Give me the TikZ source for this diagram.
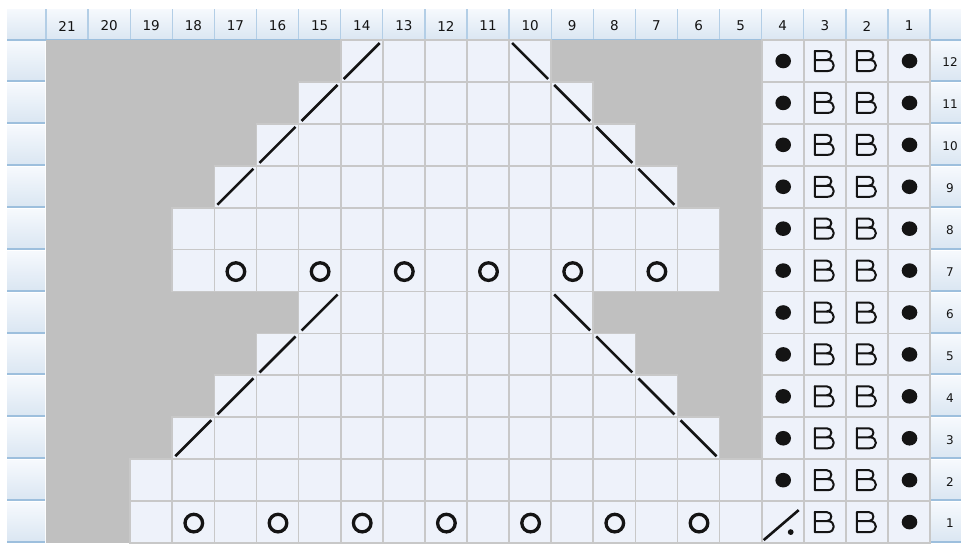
\documentclass[tikz,border=0pt]{standalone}
\usepackage{fontspec}
\setmainfont{DejaVu Sans}
\definecolor{cellfill}{HTML}{EEF2FA}
\definecolor{cellline}{HTML}{C8C8C8}
\definecolor{bggray}{HTML}{C0C0C0}
\definecolor{hdrtop}{HTML}{F6F9FD}
\definecolor{hdrbot}{HTML}{DAE6F2}
\definecolor{hdrline}{HTML}{9DBFDD}
\definecolor{hdrsep}{HTML}{B3CEE6}
\definecolor{ink}{HTML}{141414}
\tikzset{
  cellbox/.style={fill=cellfill,draw=cellline,line width=1.7pt},
  slashln/.style={draw=ink,line width=2.6pt,line cap=butt},
  ringsym/.style={draw=ink,line width=3.3pt},
  bsym/.style={draw=ink,line width=2pt,line join=round,line cap=round},
  hdrcell/.style={top color=hdrtop,bottom color=hdrbot,draw=none},
  hdrtxt/.style={font=\fontsize{13.5}{15}\selectfont,text=ink,inner sep=0pt},
  rowtxt/.style={font=\fontsize{12}{14}\selectfont,text=ink,inner sep=0pt},
}
\begin{document}
\begin{tikzpicture}[x=1pt,y=-1pt,
  declare function={colx(\n)=46+(21-\n)*42.1; rowy(\r)=40+(12-\r)*41.917;}]
\useasboundingbox (0,0) rectangle (961,544);
\fill[white] (0,0) rectangle (961,544);
% header band
\fill[hdrcell] (7,9) rectangle (961,40);
\foreach \n in {0,...,21}{
  \draw[hdrsep,line width=1.3pt] ({colx(\n)},9) -- ({colx(\n)},40);
}
\draw[hdrline,line width=1.6pt] (7,40) -- (961,40);
\foreach \n in {1,...,21}{
  \node[hdrtxt] (h\n) at ({colx(\n)+21.05},26) {\n};
}
% left and right side columns
\foreach \r in {1,...,12}{
  \fill[hdrcell] (7,{rowy(\r)+1.5}) rectangle (45,{rowy(\r)+41});
  \draw[hdrline,line width=2pt] (7,{rowy(\r)+41}) -- (45,{rowy(\r)+41});
  \fill[hdrcell] (931,{rowy(\r)+1.5}) rectangle (961,{rowy(\r)+41});
  \draw[hdrline,line width=2pt] (931,{rowy(\r)+41}) -- (961,{rowy(\r)+41});
  \node[rowtxt] (rn\r) at (950,{rowy(\r)+22.5}) {\r};
}
% gray background of pattern area
\fill[bggray] ({colx(21)},{rowy(12)}) rectangle ({colx(4)},{rowy(0)});
% white cells of the tree
\foreach \r/\a/\b in {12/10/14, 11/9/15, 10/8/16, 9/7/17, 8/6/18, 7/6/18,
                      6/9/15, 5/8/16, 4/7/17, 3/6/18, 2/5/19, 1/5/19}{
  \foreach \n in {\a,...,\b}{
    \draw[cellbox] ({colx(\n)},{rowy(\r)}) rectangle ({colx(\n)+42.1},{rowy(\r)+41.917});
  }
}
% border columns 1-4
\foreach \r in {1,...,12}{
  \foreach \n in {1,...,4}{
    \draw[cellbox] ({colx(\n)},{rowy(\r)}) rectangle ({colx(\n)+42.1},{rowy(\r)+41.917});
  }
}
% right-leaning decreases "/"
\foreach \r/\n in {12/14, 11/15, 10/16, 9/17, 6/15, 5/16, 4/17, 3/18}{
  \draw[slashln] ({colx(\n)+3},{rowy(\r)+39}) -- ({colx(\n)+39},{rowy(\r)+3});
}
% left-leaning decreases "\"
\foreach \r/\n in {12/10, 11/9, 10/8, 9/7, 6/9, 5/8, 4/7, 3/6}{
  \draw[slashln] ({colx(\n)+3},{rowy(\r)+3}) -- ({colx(\n)+39},{rowy(\r)+39});
}
% yarn overs
\foreach \r/\n in {7/17, 7/15, 7/13, 7/11, 7/9, 7/7,
                   1/18, 1/16, 1/14, 1/12, 1/10, 1/8, 1/6}{
  \draw[ringsym] ({colx(\n)+21.5},{rowy(\r)+22}) circle[radius=8.8pt];
}
% purl dots
\foreach \r in {1,...,12}{
  \fill[ink] ({colx(1)+21.5},{rowy(\r)+21}) circle[x radius=7.8pt,y radius=7.3pt];
}
\foreach \r in {2,...,12}{
  \fill[ink] ({colx(4)+21.5},{rowy(\r)+21}) circle[x radius=7.8pt,y radius=7.3pt];
}
% B symbols
\foreach \r in {1,...,12}{
  \foreach \n in {2,3}{
    \pgfmathsetmacro{\cx}{colx(\n)+21}
    \pgfmathsetmacro{\cy}{rowy(\r)+21}
    \draw[bsym] (\cx-10,\cy-10) -- (\cx-10,\cy+10) -- (\cx+3,\cy+10)
      .. controls (\cx+11,\cy+10) and (\cx+11,\cy-1) .. (\cx+3,\cy-1) -- (\cx-10,\cy-1);
    \draw[bsym] (\cx-10,\cy-10) -- (\cx+2,\cy-10)
      .. controls (\cx+8,\cy-10) and (\cx+8,\cy-1) .. (\cx+2,\cy-1);
  }
}
% slash with dot, row 1 column 4
\draw[slashln] ({colx(4)+2},{rowy(1)+39}) -- ({colx(4)+37},{rowy(1)+9});
\fill[ink] ({colx(4)+29},{rowy(1)+31}) circle[radius=2.9pt];
\end{tikzpicture}
\end{document}
